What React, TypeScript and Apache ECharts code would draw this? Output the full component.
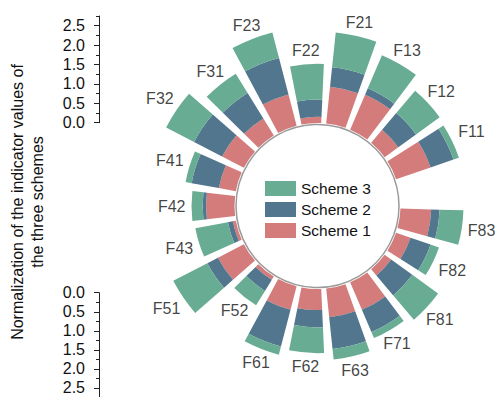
import { useEffect, useRef } from 'react';
import * as echarts from 'echarts';

// Indicators around the ring (one empty slot separates F83 from F11)
const CATEGORIES = ['F11', 'F12', 'F13', 'F21', 'F22', 'F23', 'F31', 'F32', 'F41', 'F42', 'F43', 'F51', 'F52', 'F61', 'F62', 'F63', 'F71', 'F81', 'F82', 'F83'];
const SCHEME_1 = [0.95, 0.44, 0.99, 0.96, 0.16, 0.84, 0.52, 0.64, 0.45, 0.74, 0.08, 0.76, 0.10, 0.63, 0.55, 0.75, 0.78, 0.21, 0.40, 0.80];
const SCHEME_2 = [0.63, 0.57, 0.18, 0.51, 0.45, 0.98, 0.78, 0.82, 0.72, 0.09, 0.13, 0.31, 0.34, 0.99, 0.45, 0.83, 0.63, 0.68, 0.55, 0.22];
const SCHEME_3 = [0.15, 0.76, 0.94, 0.91, 0.93, 0.69, 0.59, 0.82, 0.16, 0.29, 0.86, 1.00, 0.44, 0.22, 0.67, 0.28, 0.17, 0.83, 0.23, 0.62];
const SCALE_TICKS = [0, 0.5, 1, 1.5, 2, 2.5];
const SCALE_MINOR_TICKS = [0.25, 0.75, 1.25, 1.75, 2.25, 2.75];

const COLOR_1 = '#d47c7c';
const COLOR_2 = '#52768e';
const COLOR_3 = '#68ac94';
const FONT = '"Liberation Sans", Arial, Helvetica, sans-serif';
const TEXT = '#111111';
const NAME_SIZE = 16;

// Ring geometry (pixels)
const CX = 317.5;
const CY = 206;
const R0 = 83;
const PX_PER_UNIT = 38.4;
const R_MAX = 3;
const SLOTS = CATEGORIES.length + 1;
const STEP = 360 / SLOTS;

function scaleAxes(gridIndex: number, inverse: boolean) {
  const common = {
    gridIndex,
    type: 'value' as const,
    min: 0,
    max: 2.75,
    inverse,
    position: 'left' as const,
    splitLine: { show: false },
  };
  return [
    {
      ...common,
      axisLine: { show: true, lineStyle: { color: '#222', width: 1 } },
      axisTick: { show: true, customValues: SCALE_TICKS, length: 5, lineStyle: { color: '#222', width: 1 } },
      axisLabel: {
        show: true,
        customValues: SCALE_TICKS,
        formatter: (v: number) => v.toFixed(1),
        margin: 14,
        fontSize: 16,
        color: TEXT,
        fontFamily: FONT,
      },
    },
    {
      ...common,
      axisLine: { show: false },
      axisTick: { show: true, customValues: SCALE_MINOR_TICKS, length: 3, lineStyle: { color: '#222', width: 1 } },
      axisLabel: { show: false },
    },
  ];
}

export default function App() {
  const ref = useRef<HTMLDivElement>(null);

  useEffect(() => {
    if (!ref.current) return;
    const chart = echarts.init(ref.current, undefined, { renderer: 'svg' });

    const totals = CATEGORIES.map((_, i) => SCHEME_1[i] + SCHEME_2[i] + SCHEME_3[i]);
    // Name labels sit just beyond the end of each stacked bar
    const labelData = CATEGORIES.map((name, i) => {
      const theta = ((STEP + (i + 0.5) * STEP) * Math.PI) / 180;
      const w = name.length * NAME_SIZE * 0.575;
      const h = NAME_SIZE;
      const c = Math.abs(Math.cos(theta));
      const s = Math.abs(Math.sin(theta));
      const half = Math.min(c > 1e-6 ? w / 2 / c : Infinity, s > 1e-6 ? h / 2 / s : Infinity);
      return { name, value: [totals[i] + (half + 6) / PX_PER_UNIT, i] };
    });

    const barCommon = {
      type: 'bar' as const,
      coordinateSystem: 'polar' as const,
      stack: 'total',
      barCategoryGap: '20%',
    };

    chart.setOption({
      animation: false,
      backgroundColor: '#ffffff',
      polar: { center: [CX, CY], radius: [R0, R0 + R_MAX * PX_PER_UNIT] },
      angleAxis: {
        type: 'category',
        data: [...CATEGORIES, ''],
        startAngle: STEP,
        clockwise: false,
        axisLine: { show: false },
        axisTick: { show: false },
        axisLabel: { show: false },
        splitLine: { show: false },
      },
      radiusAxis: {
        min: 0,
        max: R_MAX,
        axisLine: { show: false },
        axisTick: { show: false },
        axisLabel: { show: false },
        splitLine: { show: false },
      },
      grid: [
        { left: 99, top: 16, width: 10, height: 2.75 * 38.8, outerBoundsMode: 'none', containLabel: false },
        { left: 99, top: 292.7, width: 10, height: 2.75 * 38.1, outerBoundsMode: 'none', containLabel: false },
      ],
      xAxis: [
        { gridIndex: 0, type: 'value', show: false },
        { gridIndex: 1, type: 'value', show: false },
      ],
      yAxis: [...scaleAxes(0, false), ...scaleAxes(1, true)],
      legend: {
        data: ['Scheme 3', 'Scheme 2', 'Scheme 1'],
        orient: 'vertical',
        left: 265,
        top: 180.5,
        padding: 0,
        itemWidth: 31,
        itemHeight: 15,
        itemGap: 5,
        icon: 'rect',
        selectedMode: false,
        textStyle: { fontSize: 15.5, color: TEXT, fontFamily: FONT },
      },
      graphic: [
        {
          type: 'circle',
          shape: { cx: CX, cy: CY, r: 81.5 },
          style: { fill: 'none', stroke: '#9a9a9a', lineWidth: 1.5 },
          z: 5,
        },
        {
          type: 'text',
          x: 27.5,
          y: 202,
          rotation: Math.PI / 2,
          style: {
            text: 'Normalization of the indicator values of\nthe three schemes',
            fontSize: 16,
            lineHeight: 20,
            fontFamily: FONT,
            fill: TEXT,
            align: 'center',
            verticalAlign: 'middle',
          },
        },
      ],
      series: [
        { ...barCommon, name: 'Scheme 1', data: [...SCHEME_1, '-'], itemStyle: { color: COLOR_1 } },
        { ...barCommon, name: 'Scheme 2', data: [...SCHEME_2, '-'], itemStyle: { color: COLOR_2 } },
        { ...barCommon, name: 'Scheme 3', data: [...SCHEME_3, '-'], itemStyle: { color: COLOR_3 } },
        {
          type: 'scatter',
          coordinateSystem: 'polar',
          symbolSize: 1,
          itemStyle: { color: 'rgba(0,0,0,0)' },
          silent: true,
          data: labelData,
          label: {
            show: true,
            position: 'inside',
            formatter: '{b}',
            fontSize: NAME_SIZE,
            color: TEXT,
            fontFamily: FONT,
          },
        },
      ],
    });

    return () => chart.dispose();
  }, []);

  return <div ref={ref} style={{ position: 'absolute', left: 0, top: 0, width: 498, height: 397 }} />;
}
